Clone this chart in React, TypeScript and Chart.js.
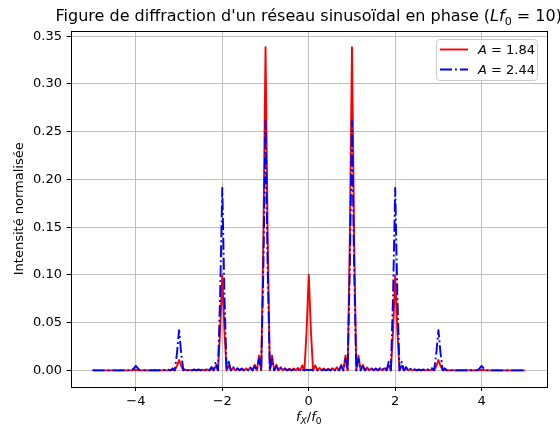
import React, { useEffect, useRef } from 'react';
import { Chart, registerables } from 'chart.js';

Chart.register(...registerables);

// Normalised frequency f_X / f_0
const FX = [
  -5,
  -4.95, -4.9, -4.85, -4.8, -4.75, -4.7, -4.65, -4.6, -4.55, -4.5,
  -4.45, -4.4, -4.35, -4.3, -4.25, -4.2, -4.15, -4.1, -4.05, -4,
  -3.95, -3.9, -3.85, -3.8, -3.75, -3.7, -3.65, -3.6, -3.55, -3.5,
  -3.45, -3.4, -3.35, -3.3, -3.25, -3.2, -3.15, -3.1, -3.05, -3,
  -2.95, -2.9, -2.85, -2.8, -2.75, -2.7, -2.65, -2.6, -2.55, -2.5,
  -2.45, -2.4, -2.35, -2.3, -2.25, -2.2, -2.15, -2.1, -2.05, -2,
  -1.95, -1.9, -1.85, -1.8, -1.75, -1.7, -1.65, -1.6, -1.55, -1.5,
  -1.45, -1.4, -1.35, -1.3, -1.25, -1.2, -1.15, -1.1, -1.05, -1,
  -0.95, -0.9, -0.85, -0.8, -0.75, -0.7, -0.65, -0.6, -0.55, -0.5,
  -0.45, -0.4, -0.35, -0.3, -0.25, -0.2, -0.15, -0.1, -0.05,
  0,
  0.05, 0.1, 0.15, 0.2, 0.25, 0.3, 0.35, 0.4, 0.45,
  0.5, 0.55, 0.6, 0.65, 0.7, 0.75, 0.8, 0.85, 0.9, 0.95,
  1, 1.05, 1.1, 1.15, 1.2, 1.25, 1.3, 1.35, 1.4, 1.45,
  1.5, 1.55, 1.6, 1.65, 1.7, 1.75, 1.8, 1.85, 1.9, 1.95,
  2, 2.05, 2.1, 2.15, 2.2, 2.25, 2.3, 2.35, 2.4, 2.45,
  2.5, 2.55, 2.6, 2.65, 2.7, 2.75, 2.8, 2.85, 2.9, 2.95,
  3, 3.05, 3.1, 3.15, 3.2, 3.25, 3.3, 3.35, 3.4, 3.45,
  3.5, 3.55, 3.6, 3.65, 3.7, 3.75, 3.8, 3.85, 3.9, 3.95,
  4, 4.05, 4.1, 4.15, 4.2, 4.25, 4.3, 4.35, 4.4, 4.45,
  4.5, 4.55, 4.6, 4.65, 4.7, 4.75, 4.8, 4.85, 4.9, 4.95,
  5,
];

// Normalised intensity, A = 1.84
const I_A184 = [
  0,
  0, 0, 0, 0, 0, 0, 0, 0, 0, 0,
  0, 0, 0, 0, 0, 0, 0, 0, 0.0003, 0.0006,
  0.0003, 0, 0.0001, 0, 0.0001, 0, 0.0001, 0, 0.0001, 0,
  0.0001, 0, 0.0002, 0, 0.0002, 0, 0.0006, 0, 0.0045, 0.0109,
  0.0046, 0, 0.0007, 0, 0.0005, 0, 0.0005, 0, 0.0005, 0,
  0.0007, 0, 0.001, 0, 0.0019, 0, 0.0048, 0, 0.0407, 0.0997,
  0.0408, 0, 0.005, 0, 0.0023, 0, 0.0017, 0, 0.0017, 0,
  0.0021, 0, 0.0031, 0, 0.0057, 0, 0.0155, 0, 0.1374, 0.3386,
  0.1375, 0, 0.0156, 0, 0.0059, 0, 0.0032, 0, 0.0022, 0,
  0.0018, 0, 0.0019, 0, 0.0025, 0, 0.0053, 0, 0.0414,
  0.1003,
  0.0414, 0, 0.0053, 0, 0.0025, 0, 0.0019, 0, 0.0018,
  0, 0.0022, 0, 0.0032, 0, 0.0059, 0, 0.0156, 0, 0.1375,
  0.3386, 0.1374, 0, 0.0155, 0, 0.0057, 0, 0.0031, 0, 0.0021,
  0, 0.0017, 0, 0.0017, 0, 0.0023, 0, 0.005, 0, 0.0408,
  0.0997, 0.0407, 0, 0.0048, 0, 0.0019, 0, 0.001, 0, 0.0007,
  0, 0.0005, 0, 0.0005, 0, 0.0005, 0, 0.0007, 0, 0.0046,
  0.0109, 0.0045, 0, 0.0006, 0, 0.0002, 0, 0.0002, 0, 0.0001,
  0, 0.0001, 0, 0.0001, 0, 0.0001, 0, 0.0001, 0, 0.0003,
  0.0006, 0.0003, 0, 0, 0, 0, 0, 0, 0, 0,
  0, 0, 0, 0, 0, 0, 0, 0, 0, 0,
  0,
];

// Normalised intensity, A = 2.44
const I_A244 = [
  0.0003,
  0.0001, 0, 0, 0, 0, 0, 0, 0, 0, 0,
  0, 0, 0.0001, 0, 0.0001, 0, 0.0002, 0, 0.0019, 0.0046,
  0.002, 0, 0.0003, 0, 0.0002, 0, 0.0002, 0, 0.0003, 0,
  0.0003, 0, 0.0005, 0, 0.0008, 0, 0.0021, 0, 0.0173, 0.0422,
  0.0174, 0, 0.0023, 0, 0.0011, 0, 0.0009, 0, 0.001, 0,
  0.0012, 0, 0.0018, 0, 0.0034, 0, 0.0089, 0, 0.0778, 0.1912,
  0.0779, 0, 0.009, 0, 0.0036, 0, 0.0023, 0, 0.0019, 0,
  0.002, 0, 0.0027, 0, 0.0047, 0, 0.0121, 0, 0.1063, 0.2615,
  0.1062, 0, 0.012, 0, 0.0045, 0, 0.0024, 0, 0.0015, 0,
  0.0011, 0, 0.0009, 0, 0.0008, 0, 0.0007, 0, 0.0008,
  0.0003,
  0.0008, 0, 0.0007, 0, 0.0008, 0, 0.0009, 0, 0.0011,
  0, 0.0015, 0, 0.0024, 0, 0.0045, 0, 0.012, 0, 0.1062,
  0.2615, 0.1063, 0, 0.0121, 0, 0.0047, 0, 0.0027, 0, 0.002,
  0, 0.0019, 0, 0.0023, 0, 0.0036, 0, 0.009, 0, 0.0779,
  0.1912, 0.0778, 0, 0.0089, 0, 0.0034, 0, 0.0018, 0, 0.0012,
  0, 0.001, 0, 0.0009, 0, 0.0011, 0, 0.0023, 0, 0.0174,
  0.0422, 0.0173, 0, 0.0021, 0, 0.0008, 0, 0.0005, 0, 0.0003,
  0, 0.0003, 0, 0.0002, 0, 0.0002, 0, 0.0003, 0, 0.002,
  0.0046, 0.0019, 0, 0.0002, 0, 0.0001, 0, 0.0001, 0, 0,
  0, 0, 0, 0, 0, 0, 0, 0, 0, 0.0001,
  0.0003,
];

const X_TICKS = [-4, -2, 0, 2, 4];
const X_TICK_LABELS = ['\u22124', '\u22122', '0', '2', '4'];
const Y_TICKS = [0, 0.05, 0.1, 0.15, 0.2, 0.25, 0.3, 0.35];
const Y_TICK_LABELS = ['0.00', '0.05', '0.10', '0.15', '0.20', '0.25', '0.30', '0.35'];
const X_MIN = -5.5;
const X_MAX = 5.5;
const Y_MIN = -0.0169;
const Y_MAX = 0.3555;

const SERIES_LABELS = ['1.84', '2.44'];

const FAMILY = '"DejaVu Sans", "DejaVu Sans Book", sans-serif';
const TICK_SIZE = 13;
const TITLE_SIZE = 16;
const LINE_W = 1.9;
const DASHDOT = [12, 3, 1.9, 3];

type Seg = { t: string; it?: boolean; sub?: boolean };

function segFont(s: Seg, size: number) {
  const sz = s.sub ? size * 0.7 : size;
  return `${s.it ? 'italic ' : ''}${sz}px ${FAMILY}`;
}

function drawRich(ctx: CanvasRenderingContext2D, segs: Seg[], x: number, y: number, size: number, align: 'center' | 'left') {
  ctx.save();
  ctx.textBaseline = 'alphabetic';
  ctx.textAlign = 'left';
  let total = 0;
  const widths = segs.map((s) => {
    ctx.font = segFont(s, size);
    const w = ctx.measureText(s.t).width;
    total += w;
    return w;
  });
  let cx = align === 'center' ? x - total / 2 : x;
  segs.forEach((s, i) => {
    ctx.font = segFont(s, size);
    ctx.fillText(s.t, cx, s.sub ? y + size * 0.22 : y);
    cx += widths[i];
  });
  ctx.restore();
}

const decorPlugin = {
  id: 'decor',
  afterDatasetsDraw(chart: any) {
    const { ctx, chartArea: a } = chart;
    ctx.save();
    ctx.strokeStyle = '#000';
    ctx.lineWidth = 1;
    ctx.strokeRect(Math.round(a.left) + 0.5, Math.round(a.top) + 0.5, Math.round(a.right - a.left), Math.round(a.bottom - a.top));
    ctx.restore();
  },
  afterDraw(chart: any) {
    const { ctx, chartArea: a } = chart;
    ctx.fillStyle = '#000';
    const cx = (a.left + a.right) / 2;
    // title
    drawRich(
      ctx,
      [
        { t: "Figure de diffraction d'un r\u00e9seau sinuso\u00efdal en phase (" },
        { t: 'Lf', it: true },
        { t: '0', sub: true },
        { t: ' = 10)' },
      ],
      cx,
      21,
      TITLE_SIZE,
      'center'
    );
    // x label
    drawRich(
      ctx,
      [
        { t: 'f', it: true },
        { t: 'X', it: true, sub: true },
        { t: '/' },
        { t: 'f', it: true },
        { t: '0', sub: true },
      ],
      cx,
      421,
      TICK_SIZE,
      'center'
    );
    // y label
    ctx.save();
    ctx.translate(20, (a.top + a.bottom) / 2);
    ctx.rotate(-Math.PI / 2);
    ctx.font = `${TICK_SIZE}px ${FAMILY}`;
    ctx.textAlign = 'center';
    ctx.textBaseline = 'middle';
    ctx.fillStyle = '#000';
    ctx.fillText('Intensit\u00e9 normalis\u00e9e', 0, 0);
    ctx.restore();

    // legend
    ctx.save();
    const bx = 436.5, by = 39.5, bw = 101, bh = 41;
    ctx.beginPath();
    (ctx as any).roundRect(bx, by, bw, bh, 3);
    ctx.fillStyle = 'rgba(255,255,255,0.8)';
    ctx.fill();
    ctx.strokeStyle = '#cccccc';
    ctx.lineWidth = 1;
    ctx.stroke();
    const rows = [
      { color: '#ff0000', dash: [] as number[], y: 49.5 },
      { color: '#0000ff', dash: DASHDOT, y: 69.5 },
    ];
    rows.forEach((r, i) => {
      ctx.beginPath();
      ctx.setLineDash(r.dash);
      ctx.strokeStyle = r.color;
      ctx.lineWidth = LINE_W;
      ctx.moveTo(440, r.y);
      ctx.lineTo(468, r.y);
      ctx.stroke();
      ctx.setLineDash([]);
      ctx.fillStyle = '#000';
      drawRich(ctx, [{ t: 'A', it: true }, { t: ' = ' + SERIES_LABELS[i] }], 478, r.y + 4.5, TICK_SIZE, 'left');
    });
    ctx.restore();
  },
};

export default function App() {
  const ref = useRef<HTMLCanvasElement>(null);
  useEffect(() => {
    document.body.style.margin = '0';
    const tickFont = { family: FAMILY, size: TICK_SIZE };
    const chart = new Chart(ref.current as HTMLCanvasElement, {
      type: 'line',
      data: {
        datasets: [
          {
            label: 'A = ' + SERIES_LABELS[0],
            data: FX.map((x, i) => ({ x, y: I_A184[i] })),
            borderColor: '#ff0000',
            borderWidth: LINE_W,
            pointRadius: 0,
            tension: 0,
            borderJoinStyle: 'round',
            order: 1,
          },
          {
            label: 'A = ' + SERIES_LABELS[1],
            data: FX.map((x, i) => ({ x, y: I_A244[i] })),
            borderColor: '#0000ff',
            borderWidth: LINE_W,
            borderDash: DASHDOT,
            pointRadius: 0,
            tension: 0,
            borderJoinStyle: 'round',
            order: 0,
          },
        ],
      },
      options: {
        responsive: false,
        devicePixelRatio: 1,
        animation: false,
        layout: { padding: { top: 31, right: 13.5, left: 0, bottom: 0 } },
        plugins: { legend: { display: false }, tooltip: { enabled: false }, title: { display: false } },
        scales: {
          x: {
            type: 'linear',
            min: X_MIN,
            max: X_MAX,
            afterBuildTicks: (s: any) => {
              s.ticks = X_TICKS.map((v) => ({ value: v }));
            },
            afterFit: (s: any) => {
              s.height = 41.5;
            },
            ticks: {
              autoSkip: false,
              maxRotation: 0,
              color: '#000',
              font: tickFont,
              padding: 3,
              callback: (v: any) => X_TICK_LABELS[X_TICKS.indexOf(Number(v))],
            },
            grid: { color: '#b0b0b0', lineWidth: 0.8, tickColor: '#000', tickLength: 4.5, tickWidth: 1 },
            border: { display: false },
          },
          y: {
            type: 'linear',
            min: Y_MIN,
            max: Y_MAX,
            afterBuildTicks: (s: any) => {
              s.ticks = Y_TICKS.map((v) => ({ value: v }));
            },
            afterFit: (s: any) => {
              s.width = 71;
            },
            ticks: {
              autoSkip: false,
              color: '#000',
              font: tickFont,
              padding: 4.5,
              callback: (v: any) => Y_TICK_LABELS[Y_TICKS.indexOf(Number(v))],
            },
            grid: { color: '#b0b0b0', lineWidth: 0.8, tickColor: '#000', tickLength: 4.5, tickWidth: 1 },
            border: { display: false },
          },
        },
      } as any,
      plugins: [decorPlugin],
    });
    return () => chart.destroy();
  }, []);
  return (
    <div style={{ position: 'absolute', left: 0, top: 0, width: 560, height: 428, background: '#fff' }}>
      <canvas ref={ref} width={560} height={428} style={{ width: 560, height: 428, display: 'block' }} />
    </div>
  );
}
